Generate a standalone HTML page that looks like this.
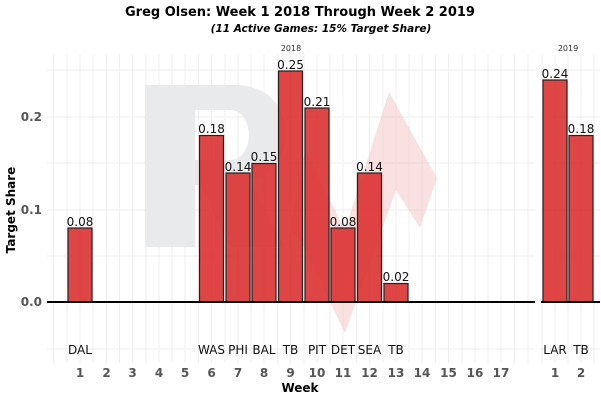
<!DOCTYPE html>
<html><head><style>
body{margin:0;background:#fff;}
svg{display:block;font-family:"DejaVu Sans","Liberation Sans",sans-serif;}
</style></head><body>
<svg width="601" height="400" viewBox="0 0 601 400">
<text x="300" y="16" text-anchor="middle" font-weight="bold" font-size="13">Greg Olsen: Week 1 2018 Through Week 2 2019</text>
<text x="321" y="32" text-anchor="middle" font-weight="bold" font-style="italic" font-size="10.5">(11 Active Games: 15% Target Share)</text>
<g stroke="#ececec" stroke-width="1">
<line x1="47" x2="535" y1="70" y2="70"/><line x1="47" x2="535" y1="117" y2="117"/><line x1="47" x2="535" y1="163" y2="163"/><line x1="47" x2="535" y1="210" y2="210"/><line x1="47" x2="535" y1="256" y2="256"/><line x1="47" x2="535" y1="349" y2="349"/>
<line x1="541" x2="600" y1="70" y2="70"/><line x1="541" x2="600" y1="117" y2="117"/><line x1="541" x2="600" y1="163" y2="163"/><line x1="541" x2="600" y1="210" y2="210"/><line x1="541" x2="600" y1="256" y2="256"/><line x1="541" x2="600" y1="349" y2="349"/>
</g>
<g stroke="#efefef" stroke-width="1">
<line x1="53.5" x2="53.5" y1="55" y2="363"/><line x1="67" x2="67" y1="55" y2="363"/><line x1="80" x2="80" y1="55" y2="363"/><line x1="93" x2="93" y1="55" y2="363"/><line x1="106.5" x2="106.5" y1="55" y2="363"/><line x1="119.5" x2="119.5" y1="55" y2="363"/><line x1="132.5" x2="132.5" y1="55" y2="363"/><line x1="146" x2="146" y1="55" y2="363"/><line x1="159" x2="159" y1="55" y2="363"/><line x1="172" x2="172" y1="55" y2="363"/><line x1="185" x2="185" y1="55" y2="363"/><line x1="198.5" x2="198.5" y1="55" y2="363"/><line x1="211.5" x2="211.5" y1="55" y2="363"/><line x1="225" x2="225" y1="55" y2="363"/><line x1="238" x2="238" y1="55" y2="363"/><line x1="251" x2="251" y1="55" y2="363"/><line x1="264" x2="264" y1="55" y2="363"/><line x1="277.5" x2="277.5" y1="55" y2="363"/><line x1="290.5" x2="290.5" y1="55" y2="363"/><line x1="304" x2="304" y1="55" y2="363"/><line x1="317" x2="317" y1="55" y2="363"/><line x1="330" x2="330" y1="55" y2="363"/><line x1="343" x2="343" y1="55" y2="363"/><line x1="356.5" x2="356.5" y1="55" y2="363"/><line x1="369.5" x2="369.5" y1="55" y2="363"/><line x1="383" x2="383" y1="55" y2="363"/><line x1="396" x2="396" y1="55" y2="363"/><line x1="409" x2="409" y1="55" y2="363"/><line x1="422" x2="422" y1="55" y2="363"/><line x1="435.5" x2="435.5" y1="55" y2="363"/><line x1="448.5" x2="448.5" y1="55" y2="363"/><line x1="462" x2="462" y1="55" y2="363"/><line x1="475" x2="475" y1="55" y2="363"/><line x1="488" x2="488" y1="55" y2="363"/><line x1="501" x2="501" y1="55" y2="363"/><line x1="514.5" x2="514.5" y1="55" y2="363"/><line x1="528" x2="528" y1="55" y2="363"/>
<line x1="542" x2="542" y1="55" y2="363"/><line x1="555" x2="555" y1="55" y2="363"/><line x1="568" x2="568" y1="55" y2="363"/><line x1="581" x2="581" y1="55" y2="363"/><line x1="594" x2="594" y1="55" y2="363"/>
</g>
<path d="M145,85 H235 C300,85 300,170 250,180 L285,247 H230 L200,185 H195 V247 H145 Z M195,110 V160 H230 C255,160 255,110 230,110 Z" fill="#e9eaec" fill-rule="evenodd"/>
<polygon points="290,230 305,150 345,230 389,92 437,178 420,228 396,190 345,333 300,240" fill="#f3c8c6" opacity="0.55"/>
<g fill="#d92b2b" fill-opacity="0.88" stroke="#222" stroke-width="1.2">
<rect x="68" y="228" width="24" height="74"/>
<rect x="199.5" y="135.5" width="24" height="166.5"/>
<rect x="226" y="173" width="24" height="129"/>
<rect x="252" y="163.5" width="24" height="138.5"/>
<rect x="278.5" y="71" width="24" height="231"/>
<rect x="305" y="108" width="24" height="194"/>
<rect x="331" y="228" width="24" height="74"/>
<rect x="357.5" y="173" width="24" height="129"/>
<rect x="384" y="283.5" width="24" height="18.5"/>
<rect x="543" y="80" width="24" height="222"/>
<rect x="569" y="135.5" width="24" height="166.5"/>
</g>
<line x1="47" x2="535" y1="302" y2="302" stroke="#000" stroke-width="2"/>
<line x1="541" x2="600" y1="302" y2="302" stroke="#000" stroke-width="2"/>
<g font-size="12" text-anchor="middle" fill="#111">
<text x="80" y="226">0.08</text><text x="211.5" y="133">0.18</text><text x="238" y="171">0.14</text><text x="264" y="161">0.15</text><text x="290.5" y="69">0.25</text><text x="317" y="106">0.21</text><text x="343" y="226">0.08</text><text x="369.5" y="171">0.14</text><text x="396" y="281">0.02</text><text x="555" y="78">0.24</text><text x="581" y="133">0.18</text>
<text x="80" y="354">DAL</text><text x="211.5" y="354">WAS</text><text x="238" y="354">PHI</text><text x="264" y="354">BAL</text><text x="290.5" y="354">TB</text><text x="317" y="354">PIT</text><text x="343" y="354">DET</text><text x="369.5" y="354">SEA</text><text x="396" y="354">TB</text><text x="555" y="354">LAR</text><text x="581" y="354">TB</text>
</g>
<g font-size="8" text-anchor="middle" fill="#333"><text x="291" y="51">2018</text><text x="568" y="51">2019</text></g>
<g font-size="12" font-weight="bold" fill="#555" text-anchor="end">
<text x="42" y="306">0.0</text><text x="42" y="214">0.1</text><text x="42" y="121">0.2</text>
</g>
<g font-size="12" font-weight="bold" fill="#555" text-anchor="middle">
<text x="80" y="377">1</text><text x="106.5" y="377">2</text><text x="132.5" y="377">3</text><text x="159" y="377">4</text><text x="185" y="377">5</text><text x="211.5" y="377">6</text><text x="238" y="377">7</text><text x="264" y="377">8</text><text x="290.5" y="377">9</text><text x="317" y="377">10</text><text x="343" y="377">11</text><text x="369.5" y="377">12</text><text x="396" y="377">13</text><text x="422" y="377">14</text><text x="448.5" y="377">15</text><text x="475" y="377">16</text><text x="501" y="377">17</text><text x="555" y="377">1</text><text x="581" y="377">2</text>
</g>
<text x="300" y="392" text-anchor="middle" font-weight="bold" font-size="12">Week</text>
<text transform="translate(15,210) rotate(-90)" text-anchor="middle" font-weight="bold" font-size="12">Target Share</text>
</svg>
</body></html>
